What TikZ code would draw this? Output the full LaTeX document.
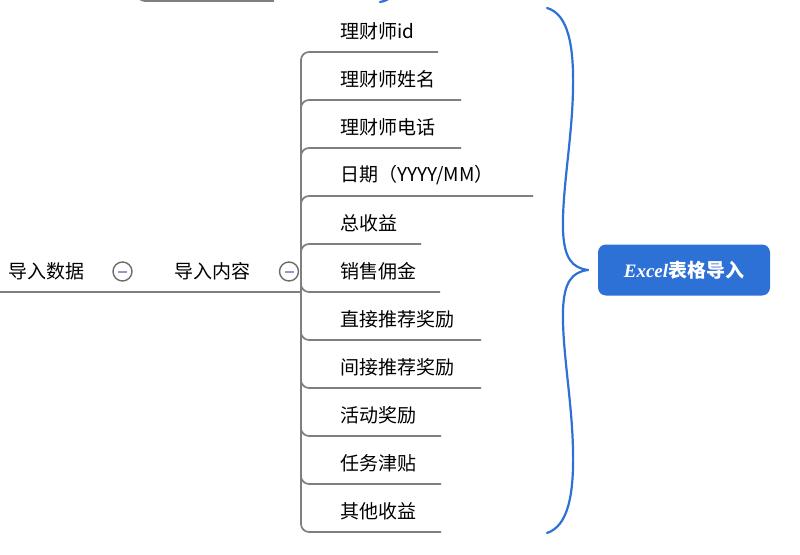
\documentclass[tikz,border=0pt]{standalone}
\usepackage{fontspec}
\newfontfamily\cjk{Noto Sans CJK SC}
\newfontfamily\excelfont{Liberation Serif}
\definecolor{bl}{HTML}{2D70D6}
\definecolor{minusc}{HTML}{8E9CC9}
\definecolor{linec}{HTML}{7F7F7F}
\begin{document}
\begin{tikzpicture}[x=1pt,y=-1pt,
  branch/.style={draw=linec, line width=1.7pt, rounded corners=8pt},
  item/.style={anchor=west, inner sep=0pt, font=\cjk\fontsize{19}{21}\selectfont, text=black},
  fold/.style={circle, draw=gray!85!black, line width=1.4pt, fill=white, minimum size=19pt, inner sep=0pt},
  foldbar/.style={draw=minusc, line width=2pt},
  brace/.style={draw=bl, line width=2.2pt, line cap=round},
  excel/.style={fill=bl, rounded corners=8pt, minimum width=172pt, minimum height=51pt, inner sep=0pt, text=white, font=\cjk\bfseries\fontsize{19}{21}\selectfont}
]
\useasboundingbox (0,0) rectangle (800,554);

% top partial branch
\coordinate (up) at (137,-12);
\coordinate (upend) at (274,1);
\draw[branch] (up) |- (upend);
% tail of brace above
\coordinate (ta) at (392,-6);
\coordinate (tb) at (380,2);
\draw[brace] (ta) .. controls (390,-1) and (386,1) .. (tb);

% left part
\coordinate (l0) at (-5,292);
\coordinate (hub) at (301,292);
\draw[branch] (l0) -- (hub);
\node[item] (n0) at (8,271) {导入数据};
\node[item] (n1) at (174,271) {导入内容};
\node[fold] (f0) at (122.5,271.5) {};
\draw[foldbar] ([xshift=-4.5pt]f0.center) -- ([xshift=4.5pt]f0.center);
\node[fold] (f1) at (289,271.5) {};
\draw[foldbar] ([xshift=-4.5pt]f1.center) -- ([xshift=4.5pt]f1.center);

% items
\foreach \i/\yy/\xe/\txt in {
  1/52/438/{理财师id},
  2/100/461/{理财师姓名},
  3/148/461/{理财师电话},
  4/196/533/{日期（YYYY/MM）},
  5/244/421/{总收益},
  6/292/440/{销售佣金},
  7/340/481/{直接推荐奖励},
  8/388/481/{间接推荐奖励},
  9/436/441/{活动奖励},
  10/484/441/{任务津贴},
  11/532/441/{其他收益}}{
  \coordinate (e\i) at (\xe,\yy);
  \node[item] (t\i) at (340,\yy-20.5) {\txt};
  \draw[branch] (hub) |- (e\i);
}

% brace
\coordinate (btop) at (547,8);
\coordinate (tip) at (588,270);
\coordinate (bbot) at (547,533);
\draw[brace] (btop) .. controls (568,14) and (574,45) .. (573,90)
  .. controls (572,140) and (562,190) .. (563,230)
  .. controls (564,258) and (572,268) .. (tip);
\draw[brace] (tip) .. controls (572,272) and (564,282) .. (563,310)
  .. controls (562,350) and (572,400) .. (573,450)
  .. controls (574,495) and (568,526) .. (bbot);

% result box
\node[excel] (ex) at (684,270) {{\excelfont\bfseries\itshape Excel}表格导入};
\end{tikzpicture}
\end{document}
